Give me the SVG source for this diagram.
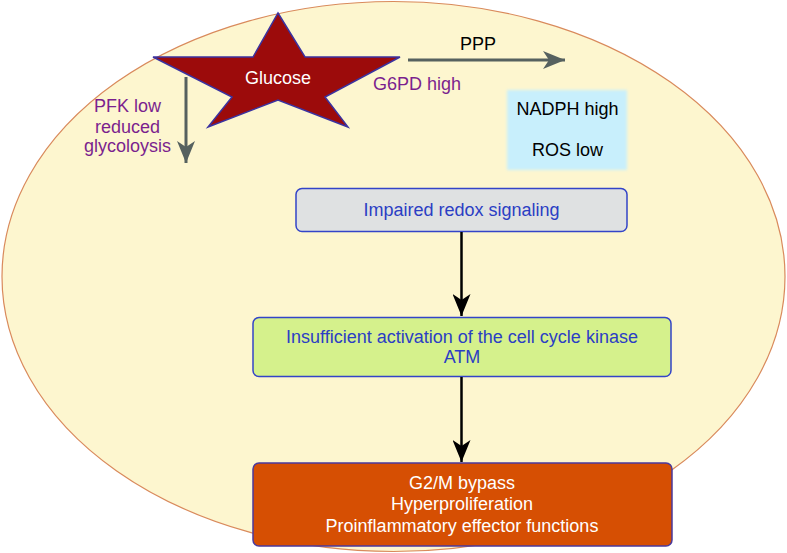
<svg xmlns="http://www.w3.org/2000/svg" width="787" height="553" viewBox="0 0 787 553">
<defs>
<style>
text{font-family:"Liberation Sans",Arial,sans-serif;font-size:18px}
.c{text-anchor:middle}
.purple{fill:#7b1f8e}
.blue{fill:#2b3ec4}
.box{stroke-width:1.5}
.gray{stroke:#56615f;stroke-width:3;fill:none}
.blk{stroke:#000;stroke-width:2.5;fill:none}
</style>
<marker id="ag" viewBox="0 0 22 18" refX="22" refY="9" markerWidth="22" markerHeight="18" markerUnits="userSpaceOnUse" orient="auto"><path d="M0,0 L22,9 L0,18 L6,9 Z" fill="#56615f"/></marker>
<marker id="ab" viewBox="0 0 22 18" refX="22" refY="9" markerWidth="22" markerHeight="18" markerUnits="userSpaceOnUse" orient="auto"><path d="M0,0 L22,9 L0,18 L6,9 Z" fill="#000"/></marker>
<filter id="blur" x="-10%" y="-10%" width="120%" height="120%"><feGaussianBlur stdDeviation="1.5"/></filter>
</defs>
<ellipse id="cell" cx="393.5" cy="276.5" rx="391.5" ry="275" fill="#fdf6cf" stroke="#d98a5c" stroke-width="1.2"/>
<g id="glucose">
<polygon points="278,13 305,57 400,57 325,97 348,127 278,100 208,127 232,97 153,57 253,57" fill="#9c0b0b" stroke="#3b32a0" stroke-width="1.5"/>
<text class="c" x="278" y="84" fill="#fff">Glucose</text>
</g>
<g id="nadph">
<rect x="507" y="90" width="120" height="80" fill="#c8effc" filter="url(#blur)"/>
<text class="c" x="567.5" y="115" fill="#000">NADPH high</text>
<text class="c" x="567.5" y="156" fill="#000">ROS low</text>
</g>
<g id="ppp-label"><text class="c" x="478" y="50" fill="#000">PPP</text></g>
<g id="g6pd-label"><text x="373" y="90" class="purple">G6PD high</text></g>
<g id="pfk-label">
<text class="c purple" x="127.5" y="112">PFK low</text>
<text class="c purple" x="127.5" y="132.5">reduced</text>
<text class="c purple" x="127.5" y="152">glycoloysis</text>
</g>
<g id="redox">
<rect class="box" x="296" y="188.5" width="331" height="43" rx="6" fill="#dfe1e2" stroke="#3344c8"/>
<text class="c blue" x="461.5" y="216">Impaired redox signaling</text>
</g>
<g id="atm">
<rect class="box" x="253" y="317.5" width="418" height="59" rx="6" fill="#d5f18c" stroke="#3344c8"/>
<text class="c blue" x="462" y="342.5">Insufficient activation of the cell cycle kinase</text>
<text class="c blue" x="462" y="363">ATM</text>
</g>
<g id="outcome">
<rect class="box" x="253" y="463" width="419" height="83" rx="6" fill="#d64f03" stroke="#4b3a9c"/>
<text class="c" x="462" y="488.5" fill="#fff">G2/M bypass</text>
<text class="c" x="462" y="510" fill="#fff">Hyperproliferation</text>
<text class="c" x="462" y="532" fill="#fff">Proinflammatory effector functions</text>
</g>
<g id="connectors">
<line class="gray" x1="408" y1="60" x2="565" y2="60" marker-end="url(#ag)"/>
<line class="gray" x1="186" y1="77" x2="186" y2="163" marker-end="url(#ag)"/>
<line class="blk" x1="461.5" y1="232" x2="461.5" y2="316" marker-end="url(#ab)"/>
<line class="blk" x1="461.5" y1="377" x2="461.5" y2="462" marker-end="url(#ab)"/>
</g>
</svg>
